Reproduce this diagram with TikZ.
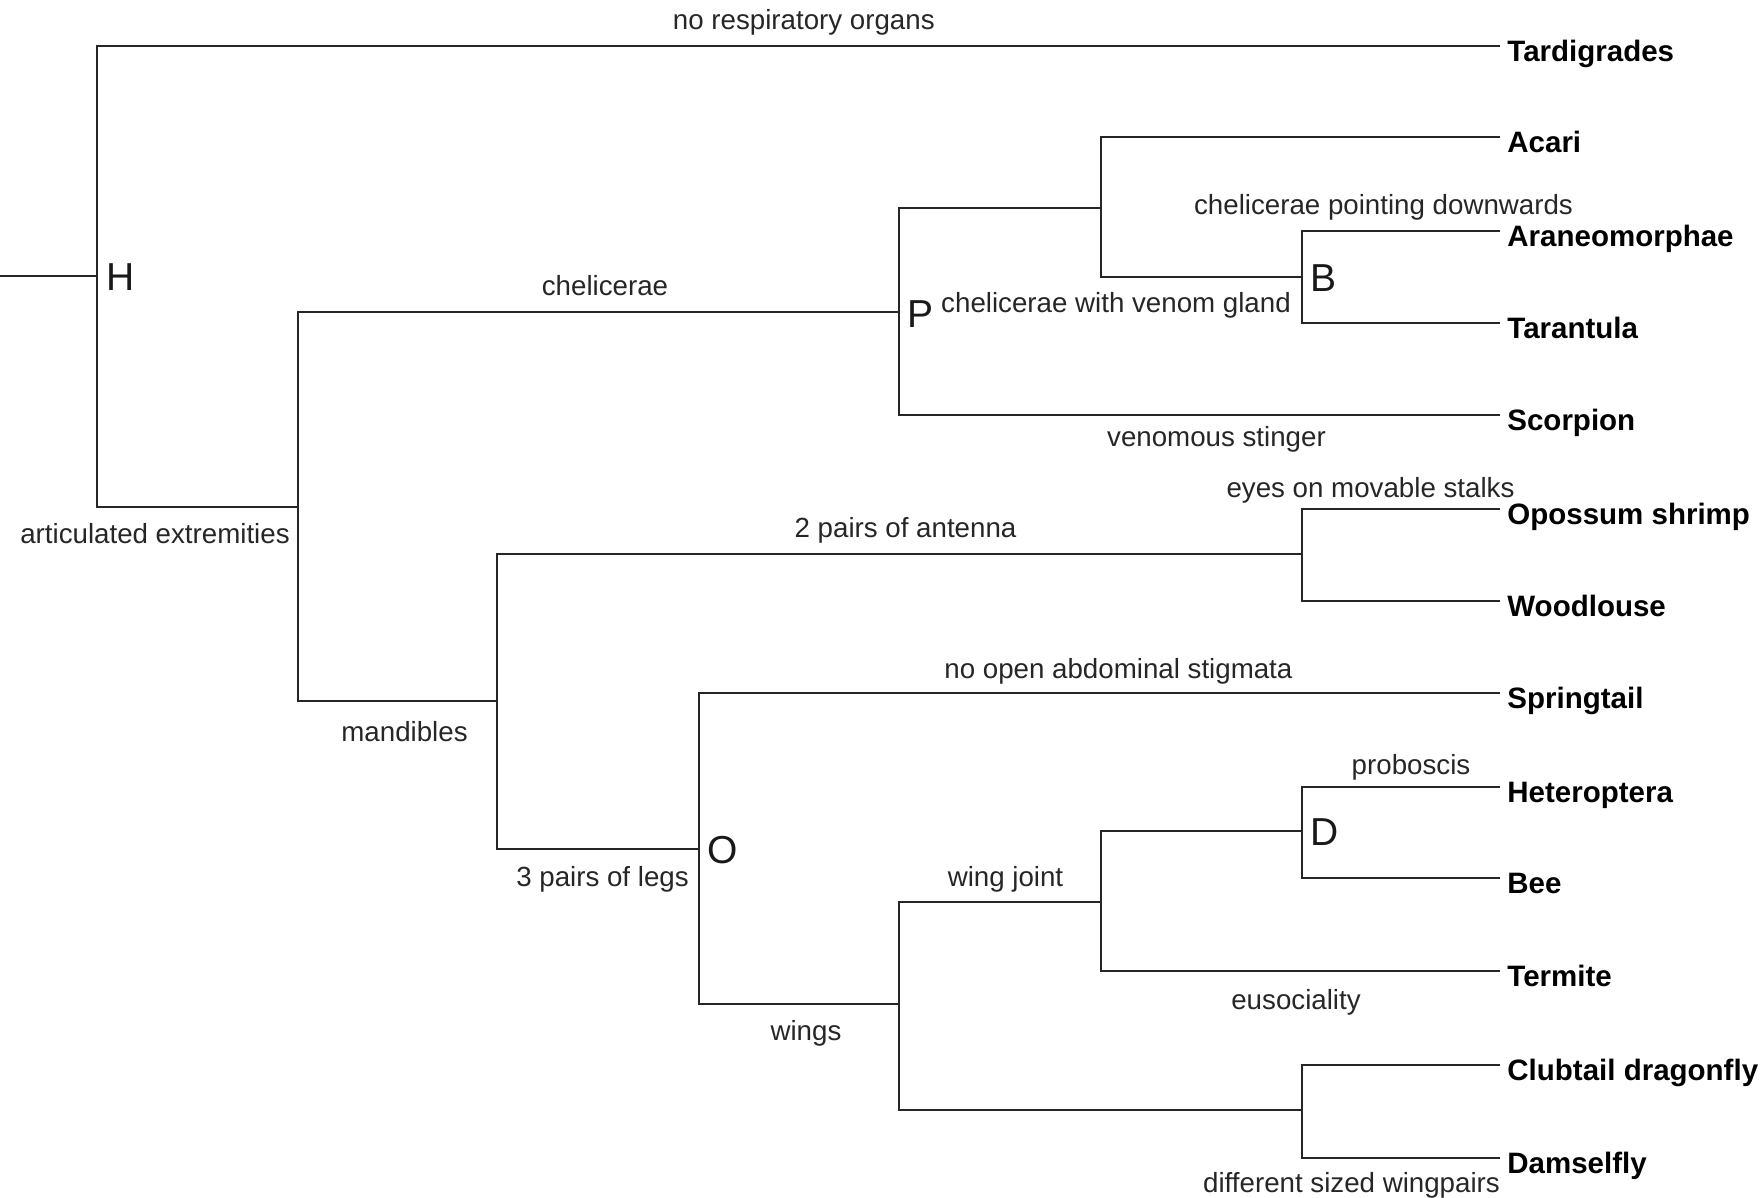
\documentclass[tikz,border=0pt]{standalone}
\usepackage{fontspec}
\setmainfont{Liberation Sans}
\begin{document}
\begin{tikzpicture}[x=0.5pt,y=-0.5pt,
  branch/.style={line width=1pt,draw=black!85,line join=miter,line cap=rect},
  lbl/.style={anchor=base,inner sep=0pt,text=black!85,font=\fontsize{13.85pt}{16pt}\selectfont},
  taxon/.style={anchor=base west,inner sep=0pt,text=black,font=\fontsize{14.75pt}{17pt}\selectfont\bfseries},
  letter/.style={anchor=west,inner sep=0pt,text=black!90,font=\fontsize{19.5pt}{22pt}\selectfont}]
\useasboundingbox (0,0) rectangle (1762,1198);
% junctions
\coordinate (root) at (1,276);
\coordinate (jH) at (96.5,276);
\coordinate (jA) at (298,507);
\coordinate (jP) at (899,312.5);
\coordinate (jAc) at (1100.5,208);
\coordinate (jB) at (1302,277);
\coordinate (jM) at (497,701);
\coordinate (jAnt) at (1302,553.6);
\coordinate (jO) at (699,849);
\coordinate (jW) at (899.4,1004);
\coordinate (jWJ) at (1100.6,902);
\coordinate (jD) at (1302,831);
\coordinate (jDf) at (1302,1110);
% leaf line ends
\coordinate (eTard) at (1499,46);
\coordinate (eAcar) at (1499,137.5);
\coordinate (eAran) at (1499,231);
\coordinate (eTara) at (1499,323);
\coordinate (eScor) at (1499,415);
\coordinate (eOpos) at (1499,509);
\coordinate (eWood) at (1499,600.8);
\coordinate (eSpri) at (1499,692.5);
\coordinate (eHete) at (1499,786.5);
\coordinate (eBee) at (1499,878);
\coordinate (eTerm) at (1499,971);
\coordinate (eClub) at (1499,1065);
\coordinate (eDams) at (1499,1158);
% branches
\draw[branch] (root) -- (jH);
\draw[branch] (jH) |- (eTard);
\draw[branch] (jH) |- (jA);
\draw[branch] (jA) |- (jP);
\draw[branch] (jA) |- (jM);
\draw[branch] (jP) |- (jAc);
\draw[branch] (jP) |- (eScor);
\draw[branch] (jAc) |- (eAcar);
\draw[branch] (jAc) |- (jB);
\draw[branch] (jB) |- (eAran);
\draw[branch] (jB) |- (eTara);
\draw[branch] (jM) |- (jAnt);
\draw[branch] (jM) |- (jO);
\draw[branch] (jAnt) |- (eOpos);
\draw[branch] (jAnt) |- (eWood);
\draw[branch] (jO) |- (eSpri);
\draw[branch] (jO) |- (jW);
\draw[branch] (jW) |- (jWJ);
\draw[branch] (jW) |- (jDf);
\draw[branch] (jWJ) |- (jD);
\draw[branch] (jWJ) |- (eTerm);
\draw[branch] (jD) |- (eHete);
\draw[branch] (jD) |- (eBee);
\draw[branch] (jDf) |- (eClub);
\draw[branch] (jDf) |- (eDams);
% taxa
\node[taxon] (Tard) at (1507,61.5) {Tardigrades};
\node[taxon] (Acar) at (1507,153) {Acari};
\node[taxon] (Aran) at (1507,246.5) {Araneomorphae};
\node[taxon] (Tara) at (1507,338.5) {Tarantula};
\node[taxon] (Scor) at (1507,430.5) {Scorpion};
\node[taxon] (Opos) at (1507,524.5) {Opossum shrimp};
\node[taxon] (Wood) at (1507,616.3) {Woodlouse};
\node[taxon] (Spri) at (1507,708) {Springtail};
\node[taxon] (Hete) at (1507,802) {Heteroptera};
\node[taxon] (Bee) at (1507,893.5) {Bee};
\node[taxon] (Term) at (1507,986.5) {Termite};
\node[taxon] (Club) at (1507,1080.5) {Clubtail dragonfly};
\node[taxon] (Dams) at (1507,1173.5) {Damselfly};
% node letters
\node[letter] (LH) at (106,277) {H};
\node[letter] (LP) at (907,314) {P};
\node[letter] (LB) at (1310,278) {B};
\node[letter] (LO) at (707,850) {O};
\node[letter] (LD) at (1310,832) {D};
% character labels
\node[lbl] (c1) at (803.8,29.6) {no respiratory organs};
\node[lbl] (c2) at (605,296) {chelicerae};
\node[lbl] (c3) at (155,543) {articulated extremities};
\node[lbl] (c4) at (1383.5,215) {chelicerae pointing downwards};
\node[lbl] (c5) at (1116,313) {chelicerae with venom gland};
\node[lbl] (c6) at (1216.5,446) {venomous stinger};
\node[lbl] (c7) at (1370.5,497.5) {eyes on movable stalks};
\node[lbl] (c8) at (905.5,537) {2 pairs of antenna};
\node[lbl] (c9) at (404.5,741.7) {mandibles};
\node[lbl] (c10) at (1118.4,678) {no open abdominal stigmata};
\node[lbl] (c11) at (1411,774) {proboscis};
\node[lbl] (c12) at (602.5,886.7) {3 pairs of legs};
\node[lbl] (c13) at (1005.5,886) {wing joint};
\node[lbl] (c14) at (1296,1009) {eusociality};
\node[lbl] (c15) at (806,1040) {wings};
\node[lbl] (c16) at (1351.5,1192.4) {different sized wingpairs};
\end{tikzpicture}
\end{document}
